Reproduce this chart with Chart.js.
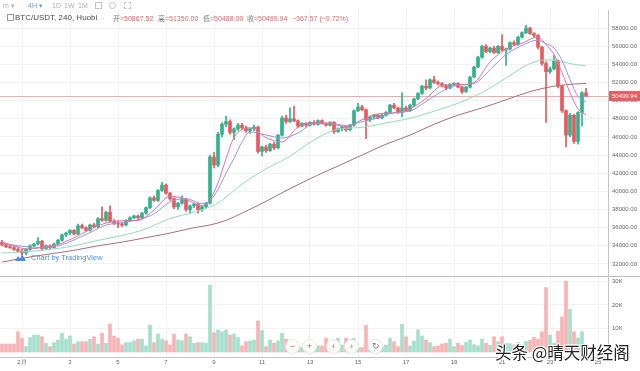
<!DOCTYPE html>
<html>
<head>
<meta charset="utf-8">
<script src="https://cdn.jsdelivr.net/npm/chart.js@4.4.0/dist/chart.umd.min.js"></script>
<style>
html, body { margin: 0; padding: 0; background: #fff; }
#wrap { position: relative; width: 640px; height: 371px; overflow: hidden; font-family: "Liberation Sans", Arial, "Noto Sans CJK SC", sans-serif; }
canvas { position: absolute; left: 0; }
#main { top: 0; }
#vol { top: 268px; }
.t { position: absolute; white-space: nowrap; line-height: 1; }
.bar1 { font-size: 7px; color: #b0b0b0; top: 2px; }
.hd { font-size: 7px; top: 14.5px; color: #777; }
.hd b { font-weight: normal; color: #e0666b; }
.btn { position: absolute; width: 13px; height: 13px; border-radius: 50%; background: rgba(255,255,255,0.9); border: 1px solid #e2e2e2; color: #777; font-size: 9px; line-height: 13px; text-align: center; }
.wm { left: 495px; top: 344px; font-size: 16.5px; color: #222; font-family: "Noto Sans CJK SC", sans-serif;
  text-shadow: -1px -1px 0 #fff, 1px -1px 0 #fff, -1px 1px 0 #fff, 1px 1px 0 #fff, 0 1px 0 #fff, 0 -1px 0 #fff; }
</style>
</head>
<body>
<div id="wrap">
  <canvas id="main" width="640" height="284"></canvas>
  <canvas id="vol" width="640" height="103"></canvas>

  <div class="t bar1" style="left:3px">m ▾</div>
  <div class="t bar1" style="left:28px;color:#6f9ad8">4H ▾</div>
  <div class="t bar1" style="left:52px">1D</div>
  <div class="t bar1" style="left:64px">1W</div>
  <div class="t bar1" style="left:78px">1M</div>
  <div class="t" style="left:95px;top:2px;width:5px;height:5px;border:1px solid #c4c4c4"></div>
  <div class="t" style="left:109px;top:2px;width:5px;height:5px;border:1px solid #c4c4c4;border-radius:50%"></div>
  <div class="t" style="left:124px;top:2px;width:5px;height:5px;border:1px dashed #c4c4c4"></div>

  <div class="t" style="left:7px;top:14px;width:5px;height:5px;border:1px solid #999"></div>
  <div class="t hd" style="left:15px;top:14px;font-size:8px;color:#4a4a4a">BTC/USDT, 240, Huobi</div>
  <div class="t hd" style="left:102px;color:#aaa">·</div>
  <div class="t hd" style="left:113px">开<b>=50867.52</b></div>
  <div class="t hd" style="left:158px">高<b>=51350.00</b></div>
  <div class="t hd" style="left:203px">低<b>=50488.00</b></div>
  <div class="t hd" style="left:247px">收<b>=50499.94</b></div>
  <div class="t hd" style="left:292px"><b>−367.57 (−0.72%)</b></div>

  <svg class="t" style="left:14px;top:252px" width="13" height="11" viewBox="0 0 13 11">
    <path d="M1 9 L4 4 L6 7 L8 2 L12 9 Z" fill="#4a8fe0"/>
  </svg>
  <div class="t" style="left:31px;top:254px;font-size:7.5px;color:#4a8fe0">Chart by TradingView</div>

  <div class="btn" style="left:285px;top:339px">−</div>
  <div class="btn" style="left:302px;top:339px">+</div>
  <div class="btn" style="left:326px;top:339px">‹</div>
  <div class="btn" style="left:344px;top:339px">›</div>
  <div class="btn" style="left:368px;top:339px">↻</div>

  <div class="t wm">头条 @晴天财经阁</div>
</div>
<script>
// BTC/USDT 4H candles, Jan 31 04:00 -> Feb 24 12:00
const opens = [34400,34100,33900,33800,33600,33400,33200,33600,34000,34200,
  34500,33700,34000,33800,34200,34600,35200,35400,35700,35300,
  36200,36000,35700,36300,36100,37000,36800,37700,36700,36500,
  36400,36300,36800,37100,37300,37100,37600,38200,39300,39000,
  40100,40700,39800,39200,38300,38700,39100,38000,38400,38600,
  38000,38300,38700,43800,42900,46300,47400,47700,46500,46900,
  47300,47000,46700,46900,47100,44400,44900,44500,45200,44800,
  46200,48100,47700,48000,47800,47200,47500,47300,47600,47400,
  47800,47500,47300,47600,46600,46900,47100,46800,47300,48900,
  49300,49000,47900,48200,48400,48100,48400,48700,49500,49200,
  48700,49200,48900,49500,50200,50800,51600,51400,52300,52000,
  51900,51700,51400,51800,51900,51500,51000,51500,52600,53700,
  54800,56000,55400,55800,55300,56000,55600,55700,56400,56200,
  57000,57500,58000,57400,57200,55900,54100,53200,53500,54400,
  51600,48900,46200,48400,45500,48700,50867.52];
const highs = [34600,34300,34100,34000,33800,33600,33700,34100,34300,34900,
  34600,34100,34100,34300,34700,35300,35500,35800,35800,36400,
  36400,36100,36400,36500,37100,38300,37800,38400,36900,36700,
  36600,36900,37200,37400,37400,37700,38300,39400,39500,40200,
  41000,40800,39900,39300,38800,39500,39200,38500,38700,38700,
  38400,38800,44000,44300,46500,47600,48300,47900,47000,47500,
  47500,47200,47000,47300,47200,45000,45100,45300,45400,46300,
  48300,48400,49200,49400,47900,47600,47600,47700,47800,47900,
  47900,47600,47700,47700,47000,47200,47200,47400,49000,49700,
  49500,49100,48300,48500,48500,48500,48800,49600,49700,49300,
  50900,49400,49600,50300,50900,51700,52300,52400,52700,52200,
  52000,51800,51900,52000,52000,51600,51600,52700,53800,54900,
  56100,56200,55900,56000,56100,57300,55800,56500,56600,57100,
  57600,58300,58100,57500,57300,56000,54300,53700,55000,54500,
  51700,49000,48600,48500,48800,51000,51350];
const lows = [34000,33800,33700,33500,33300,33000,33000,33500,33900,34100,
  33500,33600,33600,33700,34100,34500,35000,35200,35200,35200,
  35900,35600,35600,36000,36000,36700,36700,36600,36300,36000,
  36100,36200,36700,37000,36900,37000,37500,38100,38900,38900,
  40000,39700,39000,38100,38000,38600,37800,37600,38200,37600,
  37800,38100,38600,42600,42700,46000,47100,46300,45700,46700,
  46800,46500,46400,46700,44200,43900,44300,44400,44600,44700,
  46100,47500,47600,47700,47000,47100,47100,47200,47300,47300,
  47400,47200,47200,46400,46500,46700,46600,46700,47200,48800,
  48900,45800,47700,48000,48000,48000,48300,48600,49100,48600,
  48200,48800,48800,49400,50100,50700,51200,51300,51900,51700,
  51500,51200,51300,51600,51400,50800,50900,51400,52500,53600,
  54700,55300,55300,55200,55200,55500,53900,55600,56100,56100,
  56900,57400,57300,57000,55700,53900,47600,53000,53400,51400,
  48700,44900,46000,45300,45200,47200,50488];
const closes = [34100,33900,33800,33600,33400,33200,33600,34000,34200,34500,
  33700,34000,33800,34200,34600,35200,35400,35700,35300,36200,
  36000,35700,36300,36100,37000,36800,37700,36700,36500,36400,
  36300,36800,37100,37300,37100,37600,38200,39300,39000,40100,
  40700,39800,39200,38300,38700,39100,38000,38400,38600,38000,
  38300,38700,43800,42900,46300,47400,47700,46500,46900,47300,
  47000,46700,46900,47100,44400,44900,44500,45200,44800,46200,
  48100,47700,48000,47800,47200,47500,47300,47600,47400,47800,
  47500,47300,47600,46600,46900,47100,46800,47300,48900,49300,
  49000,47900,48200,48400,48100,48400,48700,49500,49200,48700,
  49200,48900,49500,50200,50800,51600,51400,52300,52000,51900,
  51700,51400,51800,51900,51500,51000,51500,52600,53700,54800,
  56000,55400,55800,55300,56000,55600,55700,56400,56200,57000,
  57500,58000,57400,57200,55900,54100,53200,53500,54400,51600,
  48900,46200,48400,45500,48700,50868,50499.94];
// volume in thousands
const volumes = [3.4,3.4,3.4,3.4,8.6,5.8,2.3,6.1,7.2,7.2,
  6.5,3.7,2.3,4.0,5.1,8.0,5.5,6.8,3.4,4.4,
  4.4,4.4,5.4,6.5,3.4,8.0,3.7,11.9,6.8,5.8,
  3.0,4.0,4.0,4.7,5.4,5.4,2.6,11.5,4.0,7.7,
  5.5,4.8,3.0,7.5,5.1,4.8,7.7,6.5,3.7,4.0,
  4.0,3.7,28.5,8.2,9.4,8.6,9.4,7.2,7.7,6.1,
  2.6,4.4,4.7,5.1,13.3,9.1,2.3,5.1,3.7,4.7,
  8.0,5.4,3.0,3.0,2.6,2.0,3.0,2.5,2.0,2.6,
  2.6,5.8,2.0,5.1,5.8,3.0,5.8,2.0,5.8,1.9,
  1.9,11.3,2.0,2.0,2.3,2.0,3.0,5.8,4.4,2.3,
  11.8,6.5,2.6,4.7,9.4,6.8,5.1,4.0,2.3,2.5,
  3.4,3.7,5.5,2.3,3.7,2.8,4.0,5.1,3.1,2.6,
  5.5,3.7,2.8,6.5,4.4,6.5,3.7,3.5,3.0,4.0,
  3.0,4.5,5.0,6.2,5.5,8.6,27.4,7.2,3.7,8.9,
  14.9,30.2,18.2,8.6,6.0,8.6,1.2];

// moving average lines: [candle index, price]
const maPink = [[0,34400],[3,34000],[6,33660],[8,33690],[10,33800],[14,34140],[18,34890],[22,35800],
  [26,36510],[30,36770],[34,36790],[38,37940],[42,39470],[46,39110],[50,38440],[52,39110],[54,40940],
  [56,43590],[58,45930],[62,47000],[66,45930],[70,45440],[74,47110],[78,47540],[82,47500],[86,47110],
  [90,47900],[94,48540],[98,48640],[102,49100],[106,50230],[110,51670],[114,51740],[118,52000],
  [122,54260],[126,55690],[130,56340],[134,57030],[136,56190],[138,55100],[140,53090],[142,50890],
  [144,49100],[146,48440]];
const maLilac = [[0,34300],[4,34000],[9,33830],[14,33980],[18,34640],[22,35460],[26,36280],[30,36550],
  [34,36870],[38,37510],[42,38830],[46,39220],[50,38640],[52,38990],[54,40210],[56,42010],[58,43650],
  [60,45450],[62,46560],[66,46220],[70,45880],[74,46440],[78,47480],[82,47500],[86,47260],[90,47680],
  [94,48100],[98,48670],[102,48860],[106,49900],[110,51030],[114,51750],[118,51900],[122,53420],
  [126,55090],[130,56090],[134,56690],[136,56290],[138,55820],[140,54420],[142,52340],[144,50450],
  [146,49860]];
const maGreen = [[0,33200],[6,33350],[12,33600],[18,34000],[24,34600],[30,35130],[36,35880],[42,37010],
  [48,37700],[54,38720],[60,40800],[66,42480],[72,43880],[78,45670],[84,46860],[90,47050],[96,47550],
  [102,48050],[108,48840],[114,49720],[120,50900],[126,52500],[132,54100],[136,54500],[140,54300],
  [143,54000],[146,53850]];
const maMaroon = [[0,32200],[6,32700],[12,33100],[18,33500],[24,34000],[30,34400],[36,34900],[42,35400],
  [48,36000],[52,36300],[56,36800],[60,37600],[66,38900],[72,40300],[78,41600],[84,42800],[90,44000],
  [96,45200],[102,46200],[108,47400],[114,48400],[120,49200],[126,50100],[132,51000],[138,51600],
  [142,51800],[146,51900]];

const tickPos = [5,17,29,41,53,65,77,89,101,113,125,137,149];
const tickLabels = ['2月','3','5','7','9','11','13','15','17','19','21','23','25'];
const priceTicks = [32000,34000,36000,38000,40000,42000,44000,46000,48000,50000,52000,54000,56000,58000];
const volTicks = [10,20,30];

const upColor = '#2fb38c';
const downColor = '#e9585e';
const idx = closes.map((c, i) => i);
const candleColors = idx.map(i => closes[i] >= opens[i] ? upColor : downColor);
const volColors = idx.map(i => closes[i] >= opens[i] ? '#a6dfcb' : '#f6b4b6');
const tickFont = { size: 6, family: 'Liberation Sans' };
const lastPrice = closes[closes.length - 1];

function maSet(points, color) {
  return {
    type: 'line',
    data: points.map(p => ({ x: p[0], y: p[1] })),
    borderColor: color,
    borderWidth: 1,
    pointRadius: 0,
    cubicInterpolationMode: 'monotone',
    order: 0
  };
}

const priceLine = {
  id: 'priceLine',
  beforeDatasetsDraw(chart) {
    const { ctx, chartArea, scales } = chart;
    const py = Math.round(scales.y.getPixelForValue(lastPrice)) + 0.5;
    ctx.save();
    ctx.strokeStyle = '#efa9a9';
    ctx.lineWidth = 1;
    ctx.beginPath();
    ctx.moveTo(chartArea.left, py);
    ctx.lineTo(chartArea.right, py);
    ctx.stroke();
    ctx.restore();
  },
  afterDraw(chart) {
    const { ctx, chartArea, scales } = chart;
    const py = Math.round(scales.y.getPixelForValue(lastPrice));
    ctx.save();
    ctx.fillStyle = '#ef5c5f';
    ctx.fillRect(chartArea.right + 1, py - 5, 32, 10);
    ctx.fillStyle = '#fff';
    ctx.font = '6px "Liberation Sans"';
    ctx.textBaseline = 'middle';
    ctx.fillText(lastPrice.toFixed(2), chartArea.right + 4, py + 0.5);
    ctx.restore();
  }
};

const paneLine = {
  id: 'paneLine',
  afterDraw(chart) {
    const ctx = chart.ctx;
    const y = chart.chartArea.top + 0.5;
    ctx.save();
    ctx.strokeStyle = '#bdbdbd';
    ctx.lineWidth = 1;
    ctx.beginPath();
    ctx.moveTo(0, y);
    ctx.lineTo(chart.width, y);
    ctx.stroke();
    ctx.restore();
  }
};

new Chart(document.getElementById('main'), {
  type: 'bar',
  data: {
    datasets: [
      maSet(maPink, '#e5729f'),
      maSet(maLilac, '#9496e6'),
      maSet(maGreen, '#92dcbc'),
      maSet(maMaroon, '#a8707d'),
      {
        data: idx.map(i => ({ x: i, y: [lows[i], highs[i]] })),
        backgroundColor: candleColors,
        barThickness: 1,
        grouped: false,
        order: 2
      },
      {
        data: idx.map(i => ({ x: i, y: [opens[i], closes[i]] })),
        backgroundColor: candleColors,
        barThickness: 3,
        minBarLength: 1,
        grouped: false,
        order: 1
      }
    ]
  },
  options: {
    responsive: false,
    animation: false,
    layout: { padding: { top: 10, left: 0, right: 0, bottom: 8 } },
    plugins: { legend: { display: false }, tooltip: { enabled: false } },
    scales: {
      x: {
        type: 'linear', min: -0.5, max: 151.5, offset: false,
        grid: { offset: false, color: '#f2f2f2', drawTicks: false },
        border: { display: false },
        ticks: { display: false },
        afterBuildTicks: s => { s.ticks = tickPos.map(v => ({ value: v })); },
        afterFit: s => { s.height = 0; }
      },
      y: {
        position: 'right', min: 30670, max: 60000,
        grid: { color: '#f2f2f2', drawTicks: false },
        border: { color: '#c4c4c4' },
        ticks: { font: tickFont, color: '#666', padding: 4, callback: v => v.toFixed(2) },
        afterBuildTicks: s => { s.ticks = priceTicks.map(v => ({ value: v })); },
        afterFit: s => { s.width = 32; }
      }
    }
  },
  plugins: [priceLine]
});

new Chart(document.getElementById('vol'), {
  type: 'bar',
  data: {
    datasets: [{
      data: idx.map(i => ({ x: i, y: volumes[i] })),
      backgroundColor: volColors,
      barThickness: 3,
      grouped: false
    }]
  },
  options: {
    responsive: false,
    animation: false,
    layout: { padding: { top: 8, left: 0, right: 0, bottom: 0 } },
    plugins: { legend: { display: false }, tooltip: { enabled: false } },
    scales: {
      x: {
        type: 'linear', min: -0.5, max: 151.5, offset: false,
        grid: { offset: false, color: '#f2f2f2', drawTicks: false },
        border: { color: '#c4c4c4' },
        ticks: {
          font: tickFont, color: '#666', padding: 2, maxRotation: 0, autoSkip: false,
          callback: v => tickLabels[tickPos.indexOf(v)]
        },
        afterBuildTicks: s => { s.ticks = tickPos.map(v => ({ value: v })); },
        afterFit: s => { s.height = 14; }
      },
      y: {
        position: 'right', min: -2.13, max: 32.34,
        grid: { color: '#f2f2f2', drawTicks: false },
        border: { color: '#c4c4c4' },
        ticks: { font: tickFont, color: '#666', padding: 4, callback: v => v + 'K' },
        afterBuildTicks: s => { s.ticks = volTicks.map(v => ({ value: v })); },
        afterFit: s => { s.width = 32; }
      }
    }
  },
  plugins: [paneLine]
});
</script>
</body>
</html>
